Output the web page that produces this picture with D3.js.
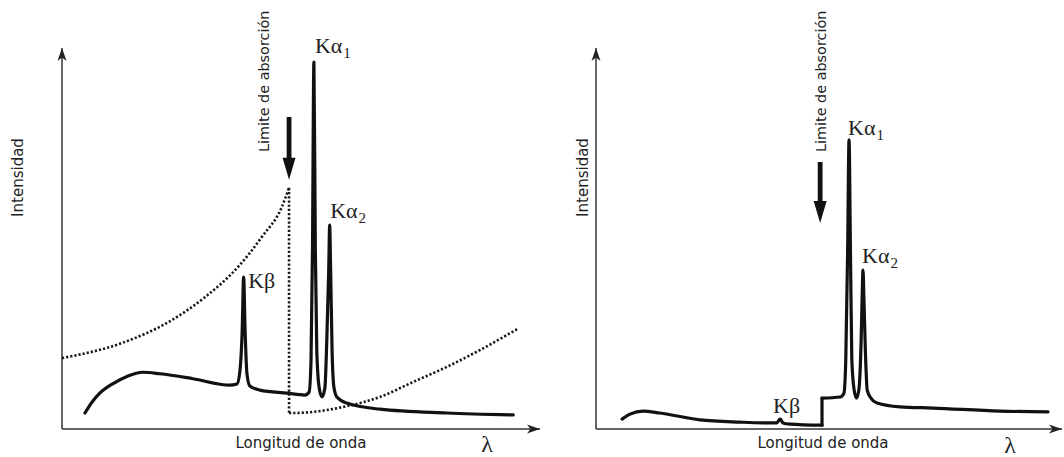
<!DOCTYPE html>
<html>
<head>
<meta charset="utf-8">
<script src="https://cdn.jsdelivr.net/npm/d3@7"></script>
<style>
  body { margin: 0; background: #fff; }
  svg { display: block; }
</style>
</head>
<body>
<svg id="chart"></svg>
<script>
// ---- data (arbitrary units: wavelength 0-100, intensity 0-100) ----

// left: spectrum without filter, filter absorption curve (dotted)
const leftSpectrum = [
  [4.8, 4.2], [6.3, 7.1], [7.9, 9.4], [10.5, 11.8], [13.6, 13.8], [16.9, 14.9],
  [20.5, 14.5], [27.4, 13.2], [35.1, 11.5], [36.6, 11.8], [37.2, 15.0], [37.7, 26.0],
  [38.0, 39.9], [38.3, 26.0], [38.7, 14.4], [39.3, 11.3], [41.4, 10.2], [47.1, 9.4],
  [50.8, 8.9], [51.7, 9.7], [52.1, 18.1], [52.4, 47.0], [52.7, 96.3], [53.0, 47.0],
  [53.3, 20.7], [53.8, 10.8], [54.4, 8.4], [55.0, 10.8], [55.4, 23.4], [55.8, 41.7],
  [56.0, 53.5], [56.2, 41.7], [56.5, 20.7], [56.9, 10.8], [57.5, 8.4], [59.6, 6.8],
  [66.5, 5.2], [80.5, 4.2], [94.4, 3.7]
];
const absorptionShort = [
  [0, 18.6], [12.6, 22.6], [23.0, 28.6], [29.9, 34.6], [36.8, 42.5],
  [41.8, 50.4], [46.0, 58.3], [47.5, 63.3]
];
const absorptionLong = [
  [47.5, 4.2], [48.3, 4.2], [59.6, 6.0], [66.5, 8.4], [73.4, 12.3],
  [80.5, 16.3], [87.4, 20.7], [95.2, 26.2]
];

// right: filtered spectrum, split at the absorption edge
const filteredShort = [
  [5.6, 2.6], [7.3, 3.9], [10.1, 4.7], [13.7, 4.2], [22.3, 2.4], [30.9, 1.8],
  [36.7, 1.6], [38.8, 1.6], [39.3, 2.4], [39.5, 2.6], [39.7, 2.4], [40.1, 1.6],
  [41.6, 1.3], [48.5, 1.0]
];
const filteredLong = [
  [48.5, 8.1], [52.4, 8.4], [53.2, 9.4], [53.6, 18.1], [54.0, 47.0], [54.3, 75.9],
  [54.6, 47.0], [54.9, 18.1], [55.4, 10.2], [55.9, 8.1], [56.4, 10.2], [56.9, 23.4],
  [57.1, 33.9], [57.3, 41.7], [57.5, 33.9], [57.8, 20.7], [58.2, 10.2], [59.0, 8.1],
  [60.3, 6.8], [65.2, 5.8], [72.3, 5.5], [86.7, 4.7], [97.0, 4.5]
];

// peak labels: [base, greek, subscript, peak wavelength, peak intensity]
const leftPeaks = [["K", "α", "1", 52.7, 96.3], ["K", "α", "2", 56.0, 53.5], ["K", "β", "", 38.0, 39.9]];
const rightPeaks = [["K", "α", "1", 54.3, 75.9], ["K", "α", "2", 57.3, 41.7], ["K", "β", "", 39.5, 2.6]];

// absorption edge arrows: [wavelength, top intensity, tip intensity]
const leftEdgeArrow = [47.5, 81.9, 65.4];
const rightEdgeArrow = [48.1, 70.1, 54.1];

const yTitle = "Intensidad";
const xTitle = "Longitud de onda";
const edgeTitle = "Limite de absorción";
const xSymbol = "λ";

// ---- layout ----
const W = 1064, H = 457;
const svg = d3.select("#chart").attr("width", W).attr("height", H);
svg.append("rect").attr("width", W).attr("height", H).attr("fill", "#fff");

svg.append("defs").append("marker")
    .attr("id", "axisHead")
    .attr("viewBox", "-14 -6 16 12")
    .attr("refX", 0).attr("refY", 0)
    .attr("markerWidth", 16).attr("markerHeight", 12)
    .attr("markerUnits", "userSpaceOnUse")
    .attr("orient", "auto")
  .append("path")
    .attr("d", "M0,0L-13,-4.5L-9.5,0L-13,4.5Z")
    .attr("fill", "#222");

const sans = "'DejaVu Sans', sans-serif";
const serif = "'Liberation Serif', 'DejaVu Serif', serif";

const panels = [
  {
    xr: [62, 540], yr: [429, 48],
    curves: [leftSpectrum], steps: [],
    dotted: [absorptionShort, absorptionLong],
    peaks: leftPeaks, labelOffsets: [[1, -9], [0.5, -7], [4.5, 11]],
    arrow: leftEdgeArrow, edgeDx: -20.5,
    yTitleX: 22.5, xTitleX: 301, symbolX: 487, symbolY: 452
  },
  {
    xr: [596, 1062], yr: [429, 48],
    curves: [filteredShort, filteredLong], steps: [[filteredShort, filteredLong]],
    dotted: [],
    peaks: rightPeaks, labelOffsets: [[-1, -5], [-1, -7], [-7, -6]],
    arrow: rightEdgeArrow, edgeDx: 5.5,
    yTitleX: 588, xTitleX: 823, symbolX: 1010, symbolY: 453
  }
];

panels.forEach(function (p) {
  const x = d3.scaleLinear().domain([0, 100]).range(p.xr);
  const y = d3.scaleLinear().domain([0, 100]).range(p.yr);
  const g = svg.append("g");

  const line = d3.line()
      .x(d => x(d[0]))
      .y(d => y(d[1]))
      .curve(d3.curveMonotoneX);
  const straight = d3.line().x(d => x(d[0])).y(d => y(d[1]));

  // axes with arrow heads, no ticks
  g.append("line")
      .attr("x1", x.range()[0]).attr("y1", y.range()[0])
      .attr("x2", x.range()[0]).attr("y2", y.range()[1])
      .attr("stroke", "#333").attr("stroke-width", 1.5)
      .attr("marker-end", "url(#axisHead)");
  g.append("line")
      .attr("x1", x.range()[0]).attr("y1", y.range()[0])
      .attr("x2", x.range()[1]).attr("y2", y.range()[0])
      .attr("stroke", "#333").attr("stroke-width", 1.5)
      .attr("marker-end", "url(#axisHead)");

  // filter absorption (dotted)
  const dotStyle = sel => sel.attr("fill", "none").attr("stroke", "#1a1a1a")
      .attr("stroke-width", 2.6).attr("stroke-dasharray", "2.2,2");
  p.dotted.forEach(function (d) {
    g.append("path").attr("d", line(d)).call(dotStyle);
  });
  if (p.dotted.length === 2) {
    const a = p.dotted[0], b = p.dotted[1];
    g.append("path").attr("d", straight([a[a.length - 1], b[0]])).call(dotStyle);
  }

  // spectrum
  p.curves.forEach(function (d) {
    g.append("path").attr("d", line(d))
        .attr("fill", "none").attr("stroke", "#111")
        .attr("stroke-width", 3.2)
        .attr("stroke-linejoin", "round").attr("stroke-linecap", "round");
  });
  p.steps.forEach(function (s) {
    const a = s[0], b = s[1];
    g.append("path").attr("d", straight([a[a.length - 1], b[0]]))
        .attr("fill", "none").attr("stroke", "#111")
        .attr("stroke-width", 3.2).attr("stroke-linecap", "round");
  });

  // peak labels
  p.peaks.forEach(function (d, i) {
    const off = p.labelOffsets[i];
    const t = g.append("text")
        .attr("x", x(d[3]) + off[0])
        .attr("y", y(d[4]) + off[1])
        .attr("font-family", serif).attr("font-size", 22)
        .attr("fill", "#222");
    t.append("tspan").text(d[0] + d[1]);
    if (d[2]) {
      t.append("tspan").attr("font-size", 15).attr("dy", 5).attr("dx", 1).text(d[2]);
    }
  });

  // absorption edge arrow
  const ax = x(p.arrow[0]), aTop = y(p.arrow[1]), aTip = y(p.arrow[2]);
  const headLen = 22, headW = 6.5, shaftW = 2.4;
  g.append("path")
      .attr("d", `M${ax - shaftW},${aTop}H${ax + shaftW}V${aTip - headLen}` +
                 `L${ax + headW},${aTip - headLen}L${ax},${aTip}` +
                 `L${ax - headW},${aTip - headLen}L${ax - shaftW},${aTip - headLen}Z`)
      .attr("fill", "#111");

  g.append("text")
      .attr("transform", `translate(${ax + p.edgeDx},152) rotate(-90)`)
      .attr("font-family", sans).attr("font-size", 14.4)
      .attr("fill", "#222")
      .text(edgeTitle);

  // axis titles
  g.append("text")
      .attr("transform", `translate(${p.yTitleX},${(y.range()[0] + y.range()[1]) / 2 - 61}) rotate(-90)`)
      .attr("text-anchor", "middle")
      .attr("font-family", sans).attr("font-size", 15)
      .attr("fill", "#222")
      .text(yTitle);
  g.append("text")
      .attr("x", p.xTitleX).attr("y", 448)
      .attr("text-anchor", "middle")
      .attr("font-family", sans).attr("font-size", 15)
      .attr("fill", "#222")
      .text(xTitle);
  g.append("text")
      .attr("x", p.symbolX).attr("y", p.symbolY)
      .attr("text-anchor", "middle")
      .attr("font-family", serif).attr("font-size", 24)
      .attr("fill", "#222")
      .text(xSymbol);
});
</script>
</body>
</html>
